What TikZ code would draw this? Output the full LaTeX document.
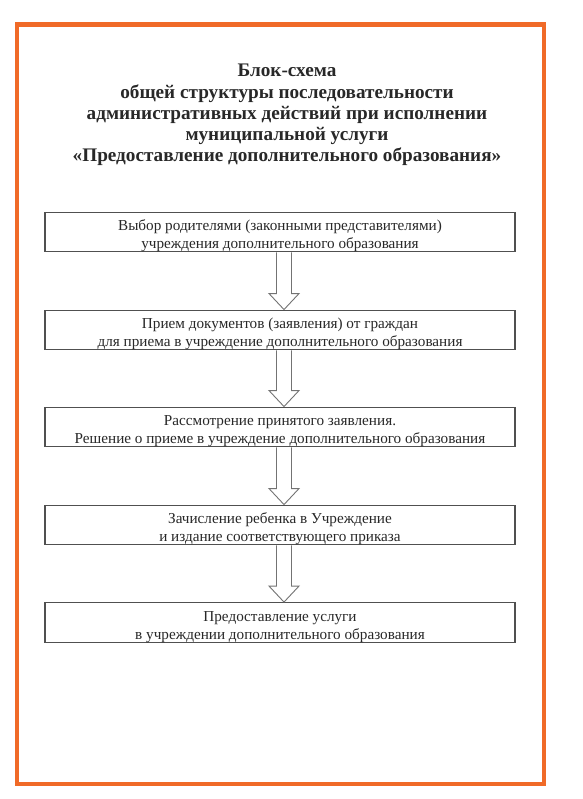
\documentclass[tikz,border=0pt]{standalone}
\usepackage{fontspec}
\setmainfont{Liberation Serif}
\usetikzlibrary{calc}
\definecolor{frameorange}{RGB}{240,106,40}
\definecolor{boxline}{RGB}{80,80,80}
\definecolor{textgray}{RGB}{40,40,40}
\newcommand\firststrut{\rule{0pt}{18.5pt}}
\tikzset{
  stepbox/.style={draw=boxline, line width=1.1pt, fill=white, minimum width=470pt, minimum height=36pt, inner sep=0pt, align=center, font=\fontsize{15.2}{18}\selectfont, text=textgray},
  blockarrow/.style={draw=boxline!80, line width=0.9pt, fill=white, line join=miter},
  titlestyle/.style={align=center, font=\bfseries\fontsize{19.2}{21.2}\selectfont, text=textgray}
}
\begin{document}
\begin{tikzpicture}[x=1pt,y=-1pt]
\useasboundingbox (0,0) rectangle (582,799);
\fill[white] (0,0) rectangle (582,799);
\draw[frameorange, line width=4.5pt] (17,24.5) rectangle (544,784);
\node[titlestyle] (title) at (287,115) {Блок-схема\\общей структуры последовательности\\административных действий при исполнении\\муниципальной услуги\\«Предоставление дополнительного образования»};
\node[stepbox] (b1) at (280,232) {\firststrut Выбор родителями (законными представителями)\\учреждения дополнительного образования};
\node[stepbox] (b2) at (280,330) {\firststrut Прием документов (заявления) от граждан\\для приема в учреждение дополнительного образования};
\node[stepbox] (b3) at (280,427) {\firststrut Рассмотрение принятого заявления.\\Решение о приеме в учреждение дополнительного образования};
\node[stepbox] (b4) at (280,525) {\firststrut Зачисление ребенка в Учреждение\\и издание соответствующего приказа};
\node[stepbox, minimum height=38pt] (b5) at (280,622.5) {\firststrut Предоставление услуги\\в учреждении дополнительного образования};
\foreach \a/\b in {b1/b2,b2/b3,b3/b4,b4/b5}{
  \draw[blockarrow] let \p1=(\a.south), \p2=(\b.north) in
    (\x1-3.5pt,\y1) -- (\x1-3.5pt,\y2+16pt) -- (\x1-11pt,\y2+16pt) -- (\x1+4pt,\y2) -- (\x1+19pt,\y2+16pt) -- (\x1+11.5pt,\y2+16pt) -- (\x1+11.5pt,\y1);
}
\end{tikzpicture}
\end{document}
